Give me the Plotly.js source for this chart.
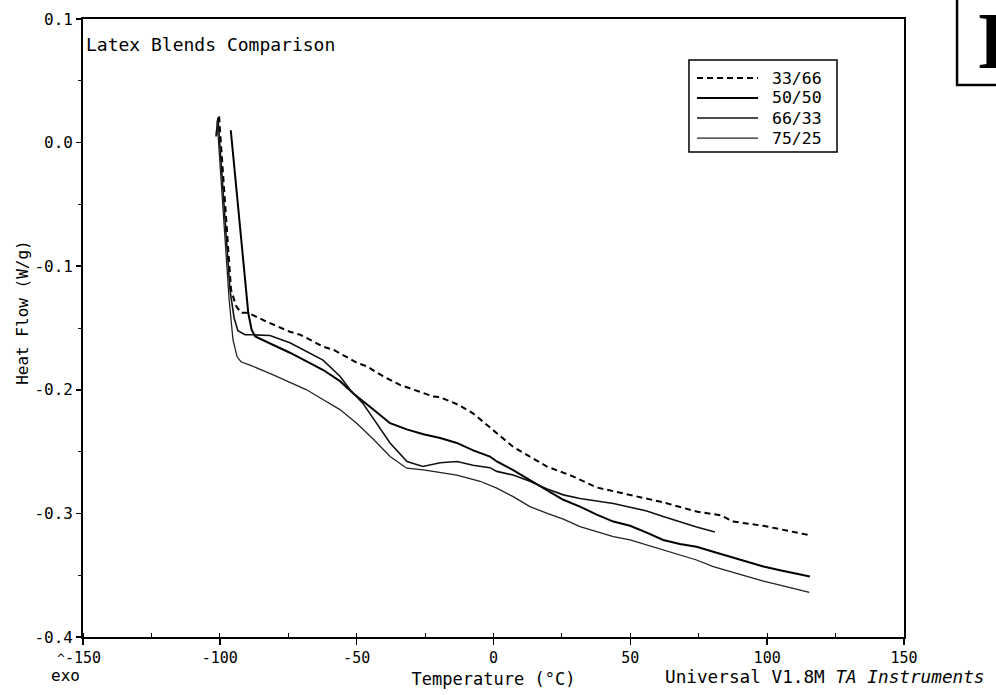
<!DOCTYPE html>
<html>
<head>
<meta charset="utf-8">
<script src="https://cdn.plot.ly/plotly-3.0.1.min.js"></script>
<style>
  html, body { margin: 0; padding: 0; background: #fff; }
  #chart { width: 996px; height: 695px; }
</style>
</head>
<body>
<div id="chart"></div>
<script>
// DSC heat-flow traces of four latex blends (temperature in °C, heat flow in W/g)
const seriesNames = ['33/66', '50/50', '66/33', '75/25'];

const temp3366 = [-101.2, -100.3, -95.9, -94.1, -92.3, -89.7, -82.8, -74.4, -70.6, -62.3, -58.5, -50.0, -46.3, -40.4, -34.2, -31.6, -22.0, -19.5, -13.0, -7.5, -4.3, 7.1, 19.4, 29.0, 37.7, 49.9, 61.9, 74.2, 83.0, 87.5, 98.5, 114.9];
const flow3366 = [0.0065, 0.0219, -0.119, -0.132, -0.1377, -0.1377, -0.145, -0.153, -0.1555, -0.165, -0.1676, -0.178, -0.181, -0.189, -0.196, -0.198, -0.2054, -0.206, -0.212, -0.219, -0.225, -0.246, -0.262, -0.270, -0.279, -0.285, -0.291, -0.2985, -0.3015, -0.3066, -0.310, -0.3174];

const temp5050 = [-96.0, -92.6, -90.8, -89.6, -88.4, -87.1, -74.4, -62.2, -56.1, -51.2, -43.9, -37.8, -31.7, -25.6, -19.5, -13.4, -7.4, -1.3, 1.2, 7.2, 13.3, 19.4, 25.5, 31.6, 37.7, 43.8, 49.9, 56.0, 62.0, 68.1, 74.2, 80.3, 86.4, 92.5, 98.6, 104.7, 115.6];
const flow5050 = [0.0100, -0.0678, -0.1109, -0.1379, -0.1514, -0.1568, -0.170, -0.184, -0.193, -0.203, -0.216, -0.227, -0.232, -0.236, -0.239, -0.243, -0.249, -0.254, -0.258, -0.265, -0.273, -0.281, -0.289, -0.2945, -0.301, -0.3066, -0.310, -0.3155, -0.3215, -0.3247, -0.327, -0.331, -0.335, -0.339, -0.343, -0.346, -0.351];

const temp6633 = [-101.4, -100.7, -96.3, -94.8, -93.4, -90.8, -87.9, -81.7, -74.4, -62.3, -56.1, -52.4, -47.7, -42.6, -37.8, -31.6, -25.8, -19.5, -13.3, -7.5, -1.3, 1.2, 7.2, 13.3, 19.4, 25.5, 31.6, 37.7, 43.8, 49.9, 56.0, 62.0, 68.1, 74.2, 80.9];
const flow6633 = [0.0049, 0.0202, -0.119, -0.1417, -0.1522, -0.1555, -0.1555, -0.156, -0.162, -0.176, -0.189, -0.200, -0.211, -0.227, -0.243, -0.258, -0.262, -0.259, -0.258, -0.261, -0.263, -0.266, -0.269, -0.274, -0.280, -0.285, -0.288, -0.290, -0.292, -0.295, -0.298, -0.3026, -0.307, -0.311, -0.315];

const temp7525 = [-101.0, -96.6, -95.2, -93.7, -92.3, -89.0, -80.5, -68.3, -62.2, -56.1, -50.0, -43.9, -37.8, -31.7, -25.6, -13.4, -4.9, 1.2, 7.2, 13.3, 19.4, 25.5, 31.6, 37.7, 43.8, 49.9, 56.0, 62.0, 68.1, 74.2, 80.3, 86.4, 92.5, 98.6, 104.7, 115.4];
const flow7525 = [0.0178, -0.1271, -0.1595, -0.1733, -0.1773, -0.180, -0.188, -0.200, -0.208, -0.216, -0.227, -0.240, -0.254, -0.2634, -0.2648, -0.269, -0.274, -0.2796, -0.2864, -0.2945, -0.2998, -0.3047, -0.3107, -0.3147, -0.3188, -0.3215, -0.3255, -0.3296, -0.3336, -0.3377, -0.343, -0.347, -0.351, -0.3547, -0.358, -0.3638];

const xTickVals = [-150, -100, -50, 0, 50, 100, 150];
const xTickText = ['-150', '-100', '-50', '0', '50', '100', '150'];
const yTickVals = [0.1, 0.0, -0.1, -0.2, -0.3, -0.4];
const yTickText = ['0.1', '0.0', '-0.1', '-0.2', '-0.3', '-0.4'];

const MONO = 'DejaVu Sans Mono, Liberation Mono, monospace';

// line style per blend, shared by the curves and the key
const lineStyles = [
  { color: '#000', width: 2, dash: '6px,4px' },
  { color: '#000', width: 2, dash: 'solid' },
  { color: '#111', width: 1.6, dash: 'solid' },
  { color: '#222', width: 1.3, dash: 'solid' }
];

function trace(i, x, y) {
  return { type: 'scatter', mode: 'lines', name: seriesNames[i], x: x, y: y,
           line: lineStyles[i], hoverinfo: 'skip', showlegend: false };
}

const data = [
  trace(0, temp3366, flow3366),
  trace(1, temp5050, flow5050),
  trace(2, temp6633, flow6633),
  trace(3, temp7525, flow7525)
];

// key box in the upper right of the plot area (paper coordinates)
const key = { x0: 0.7381, x1: 0.9184, y0: 0.7848, y1: 0.9337,
              lineX0: 0.7479, lineX1: 0.8222, textX: 0.8370,
              rowY: [0.9045, 0.8722, 0.8398, 0.8074] };

const shapes = [
  { type: 'rect', xref: 'paper', yref: 'paper', x0: key.x0, x1: key.x1, y0: key.y0, y1: key.y1,
    line: { color: '#000', width: 1.5 }, fillcolor: '#fff', layer: 'above' },
  // framed plate in the top-right corner
  { type: 'rect', xref: 'paper', yref: 'paper', x0: 1.0646, x1: 1.14, y0: 0.8932, y1: 1.05,
    line: { color: '#000', width: 2.5 }, fillcolor: 'rgba(0,0,0,0)' }
];
const annotations = [];
seriesNames.forEach(function (name, i) {
  shapes.push({ type: 'line', xref: 'paper', yref: 'paper',
                x0: key.lineX0, x1: key.lineX1, y0: key.rowY[i], y1: key.rowY[i],
                line: lineStyles[i], layer: 'above' });
  annotations.push({ text: name, xref: 'paper', yref: 'paper', x: key.textX, y: key.rowY[i],
                     xanchor: 'left', yanchor: 'middle', showarrow: false,
                     font: { family: MONO, size: 16.5, color: '#000' } });
});

annotations.push(
  { text: 'Latex Blends Comparison', xref: 'paper', yref: 'paper', x: 0.001, y: 0.958,
    xanchor: 'left', yanchor: 'middle', showarrow: false,
    font: { family: MONO, size: 18, color: '#000' } },
  { text: 'Heat Flow (W/g)', xref: 'paper', yref: 'paper', x: -0.074, y: 0.525,
    xanchor: 'center', yanchor: 'middle', textangle: -90, showarrow: false,
    font: { family: MONO, size: 16, color: '#000' } },
  { text: '^', xref: 'paper', yref: 'paper', x: -0.027, y: -0.034,
    xanchor: 'center', yanchor: 'middle', showarrow: false,
    font: { family: MONO, size: 13, color: '#000' } },
  { text: 'exo', xref: 'paper', yref: 'paper', x: -0.021, y: -0.063,
    xanchor: 'center', yanchor: 'middle', showarrow: false,
    font: { family: MONO, size: 16, color: '#000' } },
  { text: 'Universal V1.8M <i>TA Instruments</i>', xref: 'paper', yref: 'paper', x: 0.706, y: -0.065,
    xanchor: 'left', yanchor: 'middle', showarrow: false,
    font: { family: MONO, size: 17.7, color: '#000' } },
  { text: '<b>I</b>', xref: 'paper', yref: 'paper', x: 1.0865, y: 0.9636,
    xanchor: 'left', yanchor: 'middle', showarrow: false,
    font: { family: 'Liberation Serif, DejaVu Serif, serif', size: 80, color: '#000' } }
);

const layout = {
  width: 996,
  height: 695,
  margin: { l: 83, r: 92, t: 19, b: 58 },
  paper_bgcolor: '#fff',
  plot_bgcolor: '#fff',
  font: { family: MONO, size: 16, color: '#000' },
  showlegend: false,
  xaxis: {
    range: [-150, 150],
    tickvals: xTickVals, ticktext: xTickText,
    ticks: 'outside', ticklen: 6, tickwidth: 1.5, tickcolor: '#000',
    minor: { dtick: 25, tick0: -150, ticks: 'inside', ticklen: 4, tickwidth: 1, tickcolor: '#000' },
    showline: true, linecolor: '#000', linewidth: 1.8, mirror: true,
    showgrid: false, zeroline: false,
    tickfont: { family: MONO, size: 15, color: '#000' },
    title: { text: 'Temperature (°C)', font: { family: MONO, size: 17, color: '#000' }, standoff: 7 }
  },
  yaxis: {
    range: [-0.4, 0.1],
    tickvals: yTickVals, ticktext: yTickText,
    ticks: 'outside', ticklen: 5, tickwidth: 1.5, tickcolor: '#000',
    minor: { dtick: 0.05, tick0: 0, ticks: 'outside', ticklen: 3, tickwidth: 1, tickcolor: '#000' },
    showline: true, linecolor: '#000', linewidth: 1.8, mirror: true,
    showgrid: false, zeroline: false,
    tickfont: { family: MONO, size: 16, color: '#000' }
  },
  annotations: annotations,
  shapes: shapes
};

Plotly.newPlot('chart', data, layout, { displayModeBar: false, staticPlot: true });
</script>
</body>
</html>
